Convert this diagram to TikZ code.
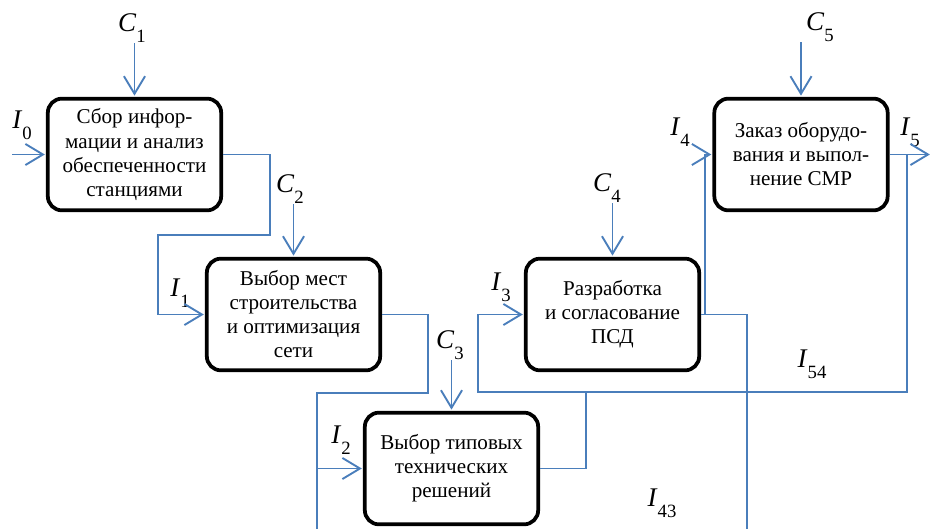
\documentclass[tikz,border=0pt]{standalone}
\usepackage{fontspec}
\setmainfont{Liberation Serif}
\usetikzlibrary{arrows.meta}
\definecolor{wire}{HTML}{4A7EBB}
\newcommand{\sgn}[2]{\textit{#1}\raisebox{-0.4em}{\fontsize{16}{16}\selectfont #2}}

\begin{document}
\begin{tikzpicture}[x=0.03cm,y=-0.03cm,
	blk/.style={draw,line width=3.2pt,rounded corners=12pt,minimum width=5.2cm,minimum height=3.35cm,
		align=center,inner sep=2pt,font=\fontsize{18}{20.5}\selectfont},
	lab/.style={inner sep=0pt,anchor=south,font=\fontsize{23}{23}\selectfont},
	line/.style={wire,line width=1.6pt},
	sig/.style={line,shorten >=1pt,-{Straight Barb[length=15pt,width=18pt]}}]
		\useasboundingbox (0,0) rectangle (932,529);
		% blocks
		\node[blk] (b1) at (134.5,154.5) {Сбор инфор-\\мации и анализ\\обеспеченности\\станциями};
		\node[blk] (b2) at (293.5,314.5) {Выбор мест\\строительства\\и оптимизация\\сети};
		\node[blk] (b3) at (451.5,468.5) {Выбор типовых\\технических\\решений};
		\node[blk] (b4) at (612.5,314.5) {Разработка\\и согласование\\ПСД};
		\node[blk] (b5) at (801,154.5) {Заказ оборудо-\\вания и выпол-\\нение СМР};
		% control labels
		\node[lab] (c1) at (132,43) {\sgn{C}{1}};
		\node[lab] (c2) at (290,204) {\sgn{C}{2}};
		\node[lab] (c3) at (450,360) {\sgn{C}{3}};
		\node[lab] (c4) at (607,203) {\sgn{C}{4}};
		\node[lab] (c5) at (820,42) {\sgn{C}{5}};
		\foreach \n/\b in {c1/b1,c2/b2,c3/b3,c4/b4,c5/b5} % edit here for the control arrows
		\draw[sig] (\n.south -| \b.north) -- (\b.north);
		% input labels
		\node[lab] (i0) at (22,140) {\sgn{I}{0}};
		\node[lab] (i1) at (180,308) {\sgn{I}{1}};
		\node[lab] (i2) at (341,455) {\sgn{I}{2}};
		\node[lab] (i3) at (501,302) {\sgn{I}{3}};
		\node[lab] (i4) at (680,147) {\sgn{I}{4}};
		\node[lab] (i5) at (910,147) {\sgn{I}{5}};
		\node[lab] (i54) at (812,379) {\sgn{I}{54}};
		\node[lab] (i43) at (662,518) {\sgn{I}{43}};
		% wires
		\coordinate (k1) at (270,235);
		\coordinate (k2) at (158,235);
		\coordinate (k3) at (428,393);
		\coordinate (k4) at (317,393);
		\coordinate (k5) at (317,529);
		\coordinate (k6) at (907,392);
		\coordinate (k7) at (478,392);
		\coordinate (k8) at (586,392);
		\coordinate (k9) at (705,314.5);
		\coordinate (k10) at (747,314.5);
		\coordinate (k11) at (747,529);
		\coordinate (out) at (931,154.5);
		\draw[sig] (i0.south west |- b1.west) -- (b1.west);
		\draw[sig] (b1.east) -| (k1) -- (k2) |- (b2.west);
		\draw[line] (b2.east) -| (k3) -- (k4) -- (k5);
		\draw[sig] (k4 |- b3.west) -- (b3.west);
		\draw[line] (b3.east) -| (k8);
		\draw[sig] (b5.east) -- (out);
		\draw[sig] (b5.east -| k6) -- (k6) -- (k7) |- (b4.west);
		\draw[sig] (b4.east) -- (k9) |- (b5.west);
		\draw[line] (k9) -- (k10) -- (k11);
\end{tikzpicture}
\end{document}
